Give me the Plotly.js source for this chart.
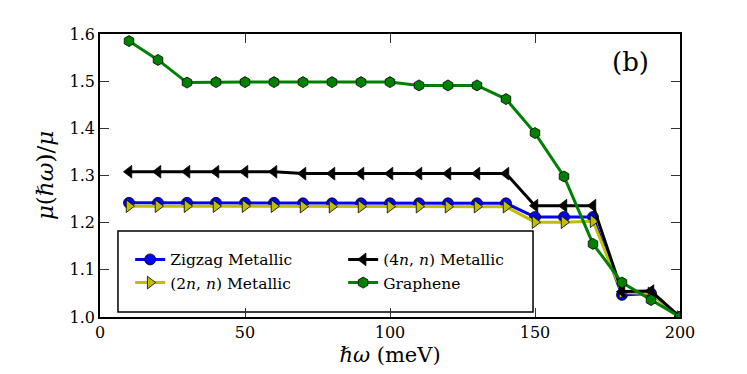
<!DOCTYPE html>
<html>
<head>
<meta charset="utf-8">
<script src="https://cdn.plot.ly/plotly-3.0.1.min.js"></script>
<style>html,body{margin:0;padding:0;background:#fff;}</style>
</head>
<body>
<div id="chart" style="width:747px;height:374px;"></div>
<script>
// energies in meV
const energy = [10, 20, 30, 40, 50, 60, 70, 80, 90, 100, 110, 120, 130, 140, 150, 160, 170, 180, 190, 200];

const zigzag = [1.242, 1.242, 1.242, 1.242, 1.242, 1.242, 1.241, 1.241, 1.241, 1.241, 1.241, 1.241, 1.241, 1.241, 1.212, 1.212, 1.212, 1.047, 1.050, 1.0];
const twoN   = [1.235, 1.235, 1.235, 1.235, 1.235, 1.235, 1.234, 1.234, 1.234, 1.234, 1.234, 1.234, 1.234, 1.234, 1.201, 1.201, 1.203, 1.052, 1.050, 1.0];
const fourN  = [1.308, 1.308, 1.308, 1.308, 1.308, 1.308, 1.304, 1.304, 1.304, 1.304, 1.304, 1.304, 1.304, 1.304, 1.236, 1.236, 1.236, 1.054, 1.055, 1.0];
const graphene = [1.585, 1.545, 1.497, 1.498, 1.498, 1.498, 1.498, 1.498, 1.498, 1.498, 1.491, 1.491, 1.491, 1.462, 1.390, 1.298, 1.155, 1.073, 1.036, 1.0];

const xTicks = [0, 50, 100, 150, 200];
const yTicks = [1.0, 1.1, 1.2, 1.3, 1.4, 1.5, 1.6];

const SERIF = "DejaVu Serif";

function series(name, y, color, symbol, rank) {
  return {
    x: energy, y: y, name: name, type: "scatter", mode: "lines+markers",
    line: { color: color, width: 3 },
    marker: { color: color, symbol: symbol, size: 11, line: { color: "#000", width: 0.8 } },
    legendrank: rank,
  };
}

const traces = [
  series("Zigzag Metallic", zigzag, "#0000ff", "circle", 1),
  series("(2<i>n</i>, <i>n</i>) Metallic", twoN, "#bfbf00", "triangle-right", 3),
  series("(4<i>n</i>, <i>n</i>) Metallic", fourN, "#000000", "triangle-left", 2),
  series("Graphene", graphene, "#008000", "hexagon", 4),
];

const axisBase = {
  showline: true, mirror: "ticks", linecolor: "#000", linewidth: 1.5,
  ticks: "inside", ticklen: 9, tickwidth: 1, tickcolor: "#333",
  showgrid: false, zeroline: false,
  tickfont: { family: SERIF, size: 16, color: "#000" },
};

const layout = {
  width: 747, height: 374,
  paper_bgcolor: "#fff", plot_bgcolor: "#fff",
  margin: { l: 100, r: 67, t: 34, b: 57 },
  font: { family: SERIF, color: "#000" },
  xaxis: {
    ...axisBase, range: [0, 200], tickvals: xTicks,
    title: { text: "<i>ℏω</i> (meV)", font: { family: SERIF, size: 21 }, standoff: 6 },
  },
  yaxis: {
    ...axisBase, range: [1.0, 1.6], tickvals: yTicks, tickformat: ".1f",
    title: { text: "<i>μ</i>(<i>ℏω</i>)/<i>μ</i>", font: { family: SERIF, size: 23 }, standoff: 10 },
  },
  legend: {
    x: 0.052, y: 0.262, xanchor: "left", yanchor: "top",
    orientation: "h", entrywidth: 168, entrywidthmode: "pixels",
    borderwidth: 0, bgcolor: "rgba(0,0,0,0)",
    font: { family: SERIF, size: 15.5, color: "#000" },
    traceorder: "normal",
  },
  // legend frame
  shapes: [{
    type: "rect", xref: "paper", yref: "paper",
    x0: 0.031, x1: 0.7466, y0: 0.0177, y1: 0.304,
    line: { color: "#000", width: 1.5 }, fillcolor: "#fff", layer: "below",
  }],
  annotations: [{
    text: "(b)", xref: "paper", yref: "paper", x: 0.914, y: 0.9,
    xanchor: "center", yanchor: "middle",
    showarrow: false, font: { family: SERIF, size: 26, color: "#000" },
  }],
};

Plotly.newPlot("chart", traces, layout, { displayModeBar: false, responsive: false });
</script>
</body>
</html>
